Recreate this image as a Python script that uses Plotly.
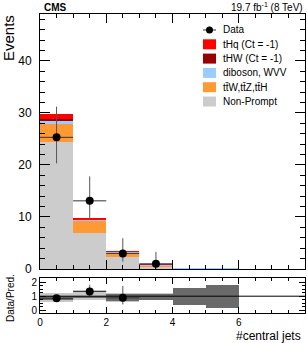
import plotly.graph_objects as go
import numpy as np

# ---- data ----
bin_centers = [0.5, 1.5, 2.5, 3.5, 4.5, 5.5, 6.5, 7.5]
non_prompt = [24.5, 7.0, 2.3, 0.40, 0.10, 0.06, 0.0, 0.0]
ttv = [3.3, 2.3, 0.9, 0.35, 0.05, 0.03, 0.0, 0.0]
diboson = [0.8, 0.15, 0.10, 0.03, 0.01, 0.01, 0.0, 0.0]
thw = [0.2, 0.08, 0.03, 0.01, 0.0, 0.0, 0.0, 0.0]
thq = [1.0, 0.25, 0.07, 0.02, 0.0, 0.0, 0.0, 0.0]

data_x = [0.5, 1.5, 2.5, 3.5]
data_y = [25.3, 13.1, 3.0, 1.0]
data_err_up = [5.9, 4.7, 2.9, 2.3]
data_err_dn = [5.0, 3.6, 1.6, 1.0]
n_ratio_points = 3

# ratio uncertainty bands (lower / upper edge, relative)
band_light_lo = [0.62, 0.76, 0.62, 0.70]
band_light_hi = [1.24, 1.43, 1.25, 1.20]
band_dark_lo = [0.72, 0.88, 0.68, 0.75, 0.35, 0.15]
band_dark_hi = [1.02, 1.02, 1.14, 1.14, 1.60, 1.80]

FONT = "Liberation Sans, Arial, Helvetica, sans-serif"
W, H = 307, 343
ML, MR, MT, MB = 40, 2, 14, 30
PW, PH = W - ML - MR, H - MT - MB


def px(x):
    return (x - ML) / PW


def py(y):
    return (H - MB - y) / PH


fig = go.Figure()

layers = [
    ("Non-Prompt", non_prompt, "#cccccc"),
    ("tt\u0304W,tt\u0304Z,tt\u0304H", ttv, "#ff9933"),
    ("diboson, WVV", diboson, "#99ccff"),
    ("tHW (Ct = -1)", thw, "#990000"),
    ("tHq (Ct = -1)", thq, "#ff0000"),
]
base = np.zeros(len(bin_centers))
for name, vals, col in layers:
    v = np.array(vals)
    fig.add_trace(go.Bar(
        x=bin_centers, y=v, base=base.copy(), width=1.0, name=name,
        marker=dict(color=col, line=dict(width=0)), showlegend=False,
        xaxis="x", yaxis="y"))
    base = base + v
total = base

fig.add_trace(go.Scatter(
    x=data_x, y=data_y, mode="markers", name="Data", showlegend=False,
    marker=dict(color="black", size=8),
    error_x=dict(type="data", array=[0.5] * len(data_x), color="#333333", thickness=1, width=0),
    error_y=dict(type="data", symmetric=False, array=data_err_up, arrayminus=data_err_dn,
                 color="#555555", thickness=1, width=0),
    xaxis="x", yaxis="y"))

# ---- ratio panel ----
nl = len(band_light_lo)
fig.add_trace(go.Bar(
    x=bin_centers[:nl], base=band_light_lo,
    y=[h - l for l, h in zip(band_light_lo, band_light_hi)],
    width=1.0, marker=dict(color="#c8c8c8", line=dict(width=0)), showlegend=False,
    xaxis="x2", yaxis="y2"))
nd = len(band_dark_lo)
fig.add_trace(go.Bar(
    x=bin_centers[:nd], base=band_dark_lo,
    y=[h - l for l, h in zip(band_dark_lo, band_dark_hi)],
    width=1.0, marker=dict(color="#6a6a6a", line=dict(width=0)), showlegend=False,
    xaxis="x2", yaxis="y2"))

ratio = [data_y[i] / total[i] for i in range(n_ratio_points)]
r_up = [data_err_up[i] / total[i] for i in range(n_ratio_points)]
r_dn = [data_err_dn[i] / total[i] for i in range(n_ratio_points)]
fig.add_trace(go.Scatter(
    x=data_x[:n_ratio_points], y=ratio, mode="markers", showlegend=False,
    marker=dict(color="black", size=8),
    error_x=dict(type="data", array=[0.5] * n_ratio_points, color="#333333", thickness=1, width=0),
    error_y=dict(type="data", symmetric=False, array=r_up, arrayminus=r_dn,
                 color="#555555", thickness=1, width=0),
    xaxis="x2", yaxis="y2"))

fig.add_shape(type="line", xref="x2 domain", yref="y2", x0=0, x1=1, y0=1, y1=1,
              line=dict(color="black", width=1))

# ---- manual legend (compact, as in the reference) ----
row0, drow = 30, 14.3
box_l, box_r, text_x = 203, 216, 221
# Data entry
fig.add_shape(type="line", xref="paper", yref="paper", x0=px(box_l), x1=px(box_r),
              y0=py(row0), y1=py(row0), line=dict(color="#333333", width=1))
fig.add_shape(type="circle", xref="paper", yref="paper", x0=px(206), x1=px(213),
              y0=py(row0 + 3.5), y1=py(row0 - 3.5), fillcolor="black", line=dict(width=0))
fig.add_annotation(text="Data", xref="paper", yref="paper", x=px(text_x), y=py(row0),
                   xanchor="left", yanchor="middle", showarrow=False, font=dict(size=10))
for i, (name, vals, col) in enumerate(reversed(layers)):
    yc = row0 + drow * (i + 1)
    fig.add_shape(type="rect", xref="paper", yref="paper", x0=px(box_l), x1=px(box_r),
                  y0=py(yc + 5), y1=py(yc - 5), fillcolor=col, line=dict(width=0))
    fig.add_annotation(text=name, xref="paper", yref="paper", x=px(text_x), y=py(yc),
                       xanchor="left", yanchor="middle", showarrow=False, font=dict(size=10))

axis_common = dict(showline=True, linecolor="black", linewidth=1, mirror="ticks",
                   ticks="inside", tickcolor="black", showgrid=False, zeroline=False)

fig.update_layout(
    width=W, height=H,
    margin=dict(l=ML, r=MR, t=MT, b=MB),
    plot_bgcolor="white", paper_bgcolor="white",
    barmode="overlay", bargap=0,
    font=dict(family=FONT, color="black", size=11),
    showlegend=False,
    xaxis=dict(domain=[0, 1], range=[0, 8], anchor="y", showticklabels=False,
               dtick=2, ticklen=9, minor=dict(dtick=0.5, ticklen=4, ticks="inside", tickcolor="black"),
               **axis_common),
    yaxis=dict(domain=[py(269), 1], range=[0, 49], anchor="x", dtick=10, ticklen=10,
               tickfont=dict(size=12), ticklabelstandoff=5,
               minor=dict(dtick=2, ticklen=5, ticks="inside", tickcolor="black"),
               **axis_common),
    xaxis2=dict(domain=[0, 1], range=[0, 8], anchor="y2", dtick=2, ticklen=6,
                tickfont=dict(size=10),
                minor=dict(dtick=0.5, ticklen=3, ticks="inside", tickcolor="black"),
                **axis_common),
    yaxis2=dict(domain=[0, py(278)], range=[-0.2, 2.3], anchor="x2", dtick=1, ticklen=6,
                tickfont=dict(size=10),
                minor=dict(dtick=0.25, ticklen=3, ticks="inside", tickcolor="black"),
                **axis_common),
)

fig.add_annotation(text="<b>CMS</b>", xref="paper", yref="paper", x=px(42), y=py(7),
                   xanchor="left", yanchor="middle", showarrow=False, font=dict(size=10))
fig.add_annotation(text="19.7 fb<sup>-1</sup> (8 TeV)", xref="paper", yref="paper", x=px(305),
                   y=py(7), xanchor="right", yanchor="middle", showarrow=False,
                   font=dict(size=10))
fig.add_annotation(text="Events", xref="paper", yref="paper", x=px(8), y=py(13),
                   xanchor="center", yanchor="top", textangle=-90, showarrow=False,
                   font=dict(size=15))
fig.add_annotation(text="Data/Pred.", xref="paper", yref="paper", x=px(10), y=py(298),
                   xanchor="center", yanchor="middle", textangle=-90, showarrow=False,
                   font=dict(size=10))
fig.add_annotation(text="#central jets", xref="paper", yref="paper", x=px(303), y=py(336),
                   xanchor="right", yanchor="middle", showarrow=False, font=dict(size=12))

fig.write_html("out.html", config={"displayModeBar": False},
               post_script="document.body.style.margin='0';")
